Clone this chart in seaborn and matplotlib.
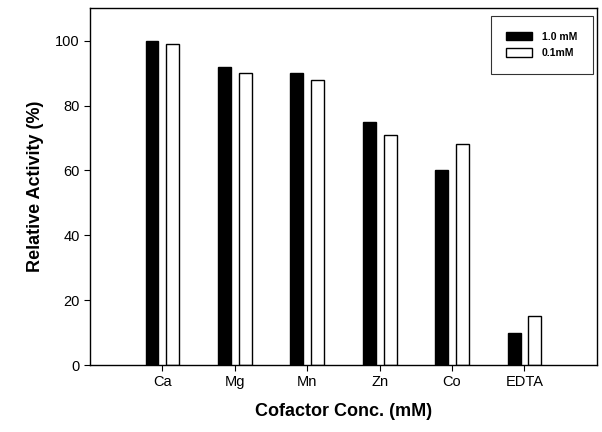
import matplotlib
matplotlib.use("Agg")
import matplotlib.pyplot as plt
import seaborn as sns
import pandas as pd

categories = ["Ca", "Mg", "Mn", "Zn", "Co", "EDTA"]
conc_1mM = [100, 92, 90, 75, 60, 10]
conc_01mM = [99, 90, 88, 71, 68, 15]
series_names = ["1.0 mM", "0.1mM"]
yticks = [0, 20, 40, 60, 80, 100]

df = pd.DataFrame({
    "Cofactor": categories * 2,
    "Activity": conc_1mM + conc_01mM,
    "Conc": [series_names[0]] * len(categories) + [series_names[1]] * len(categories),
})

sns.set_style("ticks")
plt.rcParams['font.family'] = ['Liberation Sans', 'DejaVu Sans']
plt.rcParams['text.color'] = 'black'
plt.rcParams['axes.labelcolor'] = 'black'

fig = plt.figure(figsize=(6.02, 4.32), dpi=100)
ax = fig.add_axes([0.1495, 0.155, 0.842, 0.826])

sns.barplot(data=df, x="Cofactor", y="Activity", hue="Conc", order=categories,
            hue_order=series_names, palette=["black", "white"], width=0.575, gap=0.38,
            edgecolor="black", linewidth=1.0, ax=ax)

ax.set_xlim(-1, 6)
ax.set_ylim(0, 110)
ax.set_yticks(yticks)
ax.tick_params(axis="both", labelsize=10.5, length=4, width=0.8, colors="black")
ax.set_xlabel("Cofactor Conc. (mM)", fontsize=13, fontweight="bold", labelpad=10, color="black")
ax.set_ylabel("Relative Activity (%)", fontsize=13, fontweight="bold", labelpad=8, color="black")
for s in ax.spines.values():
    s.set_visible(True)
    s.set_color("black")
    s.set_linewidth(1.0)

leg = ax.legend(loc="upper right", fontsize=7.5, frameon=True, fancybox=False,
                edgecolor="black", handlelength=2.5, handleheight=0.9,
                borderpad=1.5, labelspacing=0.6, handletextpad=0.9,
                bbox_to_anchor=(0.992, 0.978), borderaxespad=0)
leg.get_frame().set_linewidth(0.8)
for t in leg.get_texts():
    t.set_fontweight("bold")
    t.set_color("black")

fig.savefig("out.png", dpi=100, facecolor="white")
